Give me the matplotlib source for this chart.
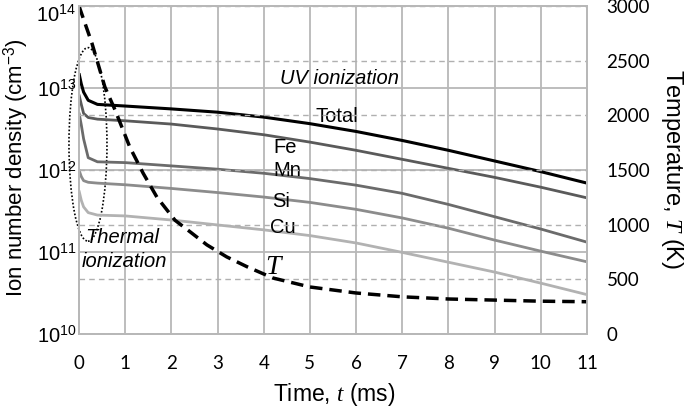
import numpy as np
import matplotlib
matplotlib.use("Agg")
import matplotlib.pyplot as plt
import matplotlib.transforms as mtransforms
from matplotlib.patches import Ellipse
from matplotlib.ticker import FixedLocator, NullLocator

plt.rcParams["font.family"] = ["Liberation Sans", "DejaVu Sans"]
plt.rcParams["mathtext.fontset"] = "custom"
plt.rcParams["mathtext.rm"] = "Liberation Sans"
plt.rcParams["mathtext.it"] = "Liberation Serif:italic"
plt.rcParams["mathtext.bf"] = "Liberation Sans:bold"

# ion number density, log10(cm^-3)
time_n = [0, 0.05, 0.1, 0.2, 0.4, 1, 2, 3, 4, 5, 6, 7, 8, 9, 10, 11]
total_log = [13.18, 13.05, 12.95, 12.85, 12.80, 12.78, 12.745, 12.705, 12.645, 12.565, 12.47, 12.36, 12.24, 12.11, 11.98, 11.84]
fe_log = [12.92, 12.80, 12.69, 12.64, 12.62, 12.60, 12.56, 12.50, 12.43, 12.34, 12.24, 12.13, 12.02, 11.91, 11.79, 11.66]
mn_log = [12.70, 12.55, 12.38, 12.15, 12.10, 12.09, 12.05, 12.01, 11.96, 11.895, 11.815, 11.715, 11.58, 11.43, 11.28, 11.12]
si_log = [12.00, 11.92, 11.87, 11.85, 11.84, 11.82, 11.775, 11.725, 11.67, 11.605, 11.52, 11.415, 11.29, 11.145, 11.01, 10.88]
cu_log = [11.75, 11.63, 11.55, 11.48, 11.45, 11.44, 11.39, 11.33, 11.27, 11.20, 11.11, 10.995, 10.875, 10.755, 10.62, 10.48]

# temperature (K)
time_T = [0, 0.28, 0.56, 0.78, 1.1, 1.39, 1.69, 2.08, 2.42, 2.77, 3.2, 3.64, 4.2, 5, 6, 7, 8, 9, 10, 11]
temp = [3000, 2660, 2260, 2050, 1710, 1470, 1250, 1040, 930, 815, 705, 615, 512, 430, 375, 340, 320, 310, 300, 295]

x_ticks = list(range(0, 12))
left_ticks = [1e10, 1e11, 1e12, 1e13, 1e14]
left_labels = ["$10^{10}$", "$10^{11}$", "$10^{12}$", "$10^{13}$", "$10^{14}$"]
right_ticks = [0, 500, 1000, 1500, 2000, 2500, 3000]

series = [
    ("Total", total_log, "#000000", 2.2),
    ("Fe", fe_log, "#5a5a5a", 2.0),
    ("Mn", mn_log, "#6b6b6b", 2.0),
    ("Si", si_log, "#8c8c8c", 2.0),
    ("Cu", cu_log, "#b2b2b2", 2.0),
]

fig = plt.figure(figsize=(6.85, 4.08), dpi=100)
ax = fig.add_axes([0.1153, 0.1814, 0.7416, 0.8039])
ax2 = ax.twinx()

grid_col = "#b8b8b8"
for name, vals, col, lw in series:
    ax.plot(time_n, 10 ** np.array(vals), color=col, lw=lw, solid_capstyle="butt")

ax.set_yscale("log")
ax.set_xlim(0, 11)
ax.set_ylim(1e10, 1e14)
ax.xaxis.set_major_locator(FixedLocator(x_ticks))
ax.yaxis.set_major_locator(FixedLocator(left_ticks))
ax.yaxis.set_minor_locator(NullLocator())
ax.set_yticklabels(left_labels)
ax.grid(True, color=grid_col, lw=1.3)
ax.set_axisbelow(True)
ax.tick_params(axis="x", length=0, pad=15, labelsize=13.5)
ax.tick_params(axis="y", length=0, pad=2, labelsize=14.5)
for lab in ax.get_xticklabels():
    lab.set_family("Lato")
for lab in ax.get_yticklabels():
    lab.set_va("center_baseline")
# top label sits a little lower, as in the original
top_lab = ax.get_yticklabels()[-1]
top_lab.set_transform(top_lab.get_transform() +
                      mtransforms.ScaledTranslation(0, -5 / 72, fig.dpi_scale_trans))

ax2.plot(time_T, temp, color="black", lw=2.5, ls=(0, (3.6, 2.0)))
ax2.set_ylim(0, 3000)
ax2.yaxis.set_major_locator(FixedLocator(right_ticks))
ax2.grid(True, axis="y", color="#b0b0b0", lw=1.0, ls=(0, (4, 3)))
ax2.set_axisbelow(True)
ax2.tick_params(axis="y", length=0, pad=14, labelsize=13.5)
for lab in ax2.get_yticklabels():
    lab.set_family("Lato")

for a in (ax, ax2):
    for sp in a.spines.values():
        sp.set_color(grid_col)
        sp.set_linewidth(1.3)

ax.set_xlabel("Time, $t$ (ms)", fontsize=16.5, va="top")
ax.xaxis.set_label_coords(0.502, -0.143)
ax.set_ylabel("Ion number density (cm$^{-3}$)", fontsize=16)
ax.yaxis.set_label_coords(-0.094, 0.506)
ax2.set_ylabel("Temperature, $T$ (K)", fontsize=17, rotation=270, va="bottom")
ax2.yaxis.set_label_coords(1.142, 0.503)

# annotations
fs = 14.5
ax.text(4.35, 10 ** 13.12, "UV ionization", fontsize=fs, style="italic", va="center", ha="left")
ax.text(5.13, 10 ** 12.65, "Total", fontsize=fs, va="center", ha="left")
ax.text(4.2, 10 ** 12.28, "Fe", fontsize=fs, va="center", ha="left")
ax.text(4.2, 10 ** 11.99, "Mn", fontsize=fs, va="center", ha="left")
ax.text(4.18, 10 ** 11.61, "Si", fontsize=fs, va="center", ha="left")
ax.text(4.13, 10 ** 11.30, "Cu", fontsize=fs, va="center", ha="left")
ax.text(0.13, 10 ** 11.18, "Thermal", fontsize=fs, style="italic", va="center", ha="left")
ax.text(0.06, 10 ** 10.88, "ionization", fontsize=fs, style="italic", va="center", ha="left")
ax.text(4.03, 10 ** 10.82, "$T$", fontsize=20, va="center", ha="left")

ell = Ellipse((0.0177, 0.578), 0.0748, 0.59, transform=ax.transAxes, fill=False,
              ec="black", lw=1.2, ls=(0, (1, 1.2)), clip_on=False)
ax.add_patch(ell)

fig.savefig("out.png", dpi=100)
